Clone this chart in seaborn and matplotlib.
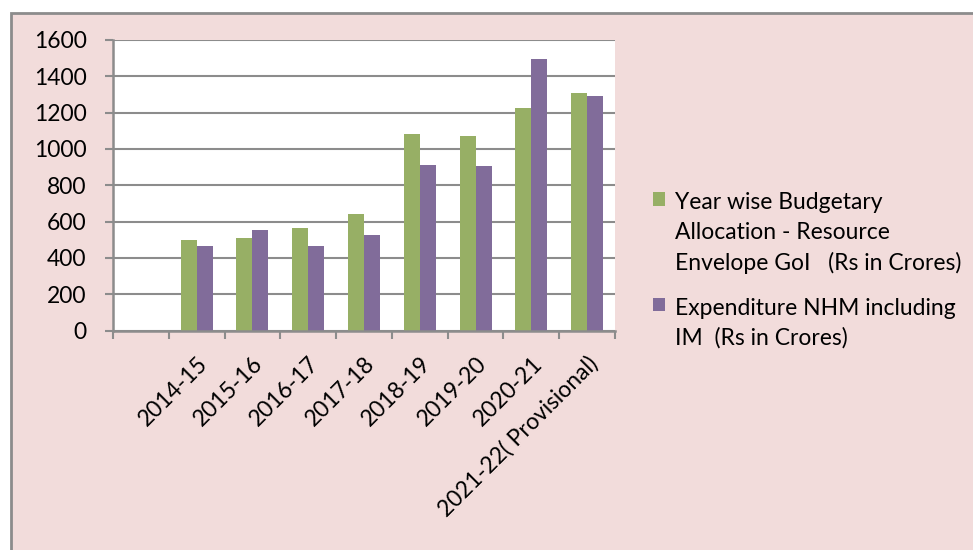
import matplotlib
matplotlib.use("Agg")
import matplotlib.pyplot as plt
import seaborn as sns
import pandas as pd
import numpy as np
from matplotlib.patches import Rectangle

years = ["2014-15", "2015-16", "2016-17", "2017-18", "2018-19",
         "2019-20", "2020-21", "2021-22( Provisional)"]
budget = [500, 509, 565, 644, 1080, 1074, 1225, 1306]
expenditure = [465, 555, 463, 528, 912, 905, 1493, 1291]
series_names = ["Year wise Budgetary\nAllocation - Resource\nEnvelope GoI   (Rs in Crores)",
                "Expenditure NHM including\nIM  (Rs in Crores)"]
order = [""] + years
yticks = [0, 200, 400, 600, 800, 1000, 1200, 1400, 1600]

df = pd.DataFrame({
    "year": years * 2,
    "value": budget + expenditure,
    "series": [series_names[0]] * len(years) + [series_names[1]] * len(years),
})

sns.set_theme(style="white")
plt.rcParams["font.family"] = ["Lato", "DejaVu Sans"]
plt.rcParams["text.color"] = "black"
plt.rcParams["xtick.color"] = "black"
plt.rcParams["ytick.color"] = "black"
FS = 16.5

fig = plt.figure(figsize=(9.73, 5.5), dpi=100, facecolor="white")
bg = Rectangle((11 / 973, -0.01), 1.0, 1.01 - 13 / 550, transform=fig.transFigure,
               facecolor="#F2DCDB", edgecolor="#8C8C8C", linewidth=2, zorder=-10)
fig.patches.append(bg)

ax = fig.add_axes([113 / 973, 1 - 330.5 / 550, 502 / 973, 290.5 / 550])
ax.set_zorder(1)
ax.set_facecolor("white")

sns.barplot(data=df, x="year", y="value", hue="series", order=order,
            hue_order=series_names, palette=["#9BBB59", "#8064A2"],
            width=0.575, gap=0, linewidth=0, ax=ax, legend=True)

ax.set_ylim(0, 1600)
ax.set_yticks(yticks)
ax.set_yticklabels([str(v) for v in yticks])
ax.set_xlim(-0.5, len(order) - 0.5)
ax.set_xlabel("")
ax.set_ylabel("")
ax.yaxis.grid(True, color="#8C8C8C", linewidth=1.5)
ax.set_axisbelow(True)

for s in ["top", "right"]:
    ax.spines[s].set_visible(False)
for s in ["left", "bottom"]:
    ax.spines[s].set_color("#8C8C8C")
    ax.spines[s].set_linewidth(1.8)

ax.set_xticks(np.arange(-0.5, len(order), 1), minor=True)
ax.tick_params(axis="x", which="major", length=0, pad=16, labelsize=FS, labelcolor="black")
ax.tick_params(axis="x", which="minor", length=6, width=1.5, color="#8C8C8C",
               direction="out", bottom=True)
ax.tick_params(axis="y", which="major", length=6, width=1.5, color="#8C8C8C",
               direction="out", left=True, pad=13, labelsize=FS, labelcolor="black")
for lab in ax.get_xticklabels():
    lab.set_rotation(45)
    lab.set_ha("right")
    lab.set_va("top")
    lab.set_rotation_mode("anchor")

handles, labels = ax.get_legend_handles_labels()
leg = ax.legend(handles, labels, loc="upper left", bbox_to_anchor=(642 / 973, 1 - 181 / 550),
                bbox_transform=fig.transFigure, frameon=False, fontsize=FS,
                handlelength=0.52, handleheight=0.52, handletextpad=0.4,
                labelspacing=1.03, borderpad=0)
for t in leg.get_texts():
    t.set_linespacing(1.5)
    t.set_color("black")
for col in leg._legend_handle_box.get_children():
    for item in col.get_children():
        item.align = "top"

fig.savefig("out.png", dpi=100, facecolor="white")
